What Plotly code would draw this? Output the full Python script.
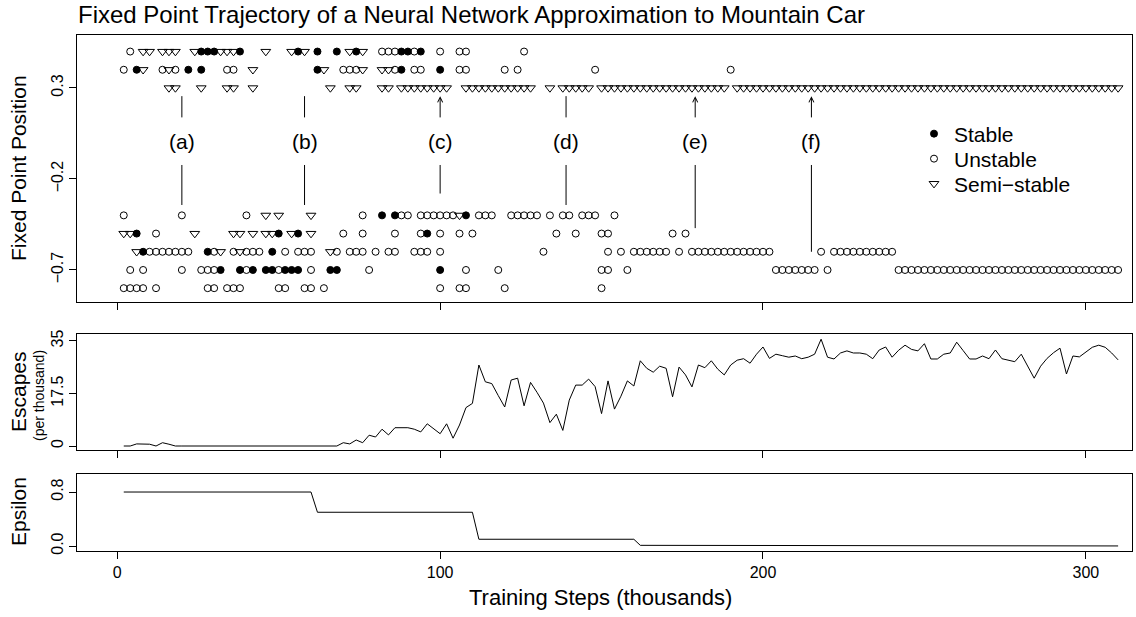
import plotly.graph_objects as go

# ---------------- data ----------------
# Training steps (thousands) at which fixed points / escapes were recorded
steps = list(range(2, 311, 2))

# Fixed point x-positions (thousands of steps) for each position level
stable_p050 = [26, 28, 30, 38, 56, 62, 68, 74, 88, 90, 94]
unstable_p050 = [4, 82, 84, 86, 92, 100, 106, 108, 126]
semi_p050 = [8, 10, 14, 16, 18, 24, 32, 34, 36, 46, 54, 58, 72, 76]

stable_p040 = [6, 22, 26, 62, 88, 100]
unstable_p040 = [2, 14, 18, 34, 36, 70, 72, 74, 86, 92, 94, 106, 108, 120, 124, 148, 190]
semi_p040 = [8, 16, 42, 64, 76, 82, 84]

semi_p030 = [16, 18, 26, 34, 36, 42, 66, 72, 74, 82, 84, 88,
             90, 92, 94, 96, 98, 100, 102, 108,
             110, 112, 114, 116, 118, 120, 122, 124, 126, 128, 134,
             138, 140, 142, 144, 146,
             150, 152, 154, 156, 158, 160, 162, 164, 166, 168, 170, 172, 174, 176, 178,
             180, 182, 184, 186, 188,
             192, 194, 196, 198, 200, 202, 204, 206, 208, 210, 212, 214, 216, 218, 220,
             222, 224, 226, 228, 230, 232, 234, 236, 238, 240, 242, 244, 246, 248, 250,
             252, 254, 256, 258, 260, 262, 264, 266, 268, 270, 272, 274, 276, 278, 280,
             282, 284, 286, 288, 290, 292, 294, 296, 298, 300, 302, 304, 306, 308, 310]

stable_m040 = [82, 86, 108]
unstable_m040 = [2, 20, 40, 76, 88, 90, 94, 96, 98, 100, 102, 104, 112, 114, 116,
                 122, 124, 126, 128, 130, 134, 138, 140, 144, 146, 148, 154]
semi_m040 = [46, 50, 60, 106]

stable_m050 = [6, 50, 56, 96]
unstable_m050 = [12, 70, 76, 86, 94, 100, 106, 110, 136, 142, 150, 152, 172, 176]
semi_m050 = [2, 4, 24, 36, 38, 42, 46, 48, 54, 60]

stable_m060 = [8, 28, 48]
unstable_m060 = [10, 12, 14, 16, 18, 20, 22, 30, 36, 40, 42, 44, 52, 56, 58, 60, 68,
                 72, 74, 76, 80, 84, 86, 92, 94, 96, 100, 132, 152, 156,
                 160, 162, 164, 166, 168, 170, 174,
                 178, 180, 182, 184, 186, 188, 190, 192, 194, 196, 198, 200, 202,
                 218, 222, 224, 226, 228, 230, 232, 234, 236, 238, 240]
semi_m060 = [6, 32, 38, 66]

stable_m070 = [32, 38, 42, 46, 48, 52, 54, 56, 66, 68, 100]
unstable_m070 = [4, 8, 20, 26, 28, 30, 40, 50, 60, 78, 108, 118, 150, 152, 158,
                 204, 206, 208, 210, 212, 214, 216, 220,
                 242, 244, 246, 248, 250, 252, 254, 256, 258, 260, 262, 264, 266,
                 268, 270, 272, 274, 276, 278, 280, 282, 284, 286, 288, 290, 292,
                 294, 296, 298, 300, 302, 304, 306, 308, 310]

unstable_m080 = [2, 4, 6, 8, 12, 28, 30, 34, 36, 38, 50, 52, 58, 60, 64,
                 100, 106, 108, 120, 150]

# Escapes (per thousand), one value per entry of `steps`
escapes = [0, 0, 0.7, 0.7, 0.6, 0, 1.1, 0.6, 0, 0,
           0, 0, 0, 0, 0, 0, 0, 0, 0, 0,
           0, 0, 0, 0, 0, 0, 0, 0, 0, 0,
           0, 0, 0, 0, 1.1, 0.7, 2.0, 1.1, 3.6, 3.0,
           5.6, 3.7, 6.1, 6.1, 6.1, 5.6, 4.7, 7.4, 5.9, 4.1,
           7.4, 2.6, 7.0, 12.8, 14.2, 27.0, 21.4, 20.8, 16.8, 13.0,
           22.0, 22.6, 13.4, 21.2, 17.9, 14.3, 7.8, 10.6, 5.2, 15.3,
           20.3, 20.3, 22.3, 19.8, 10.8, 21.7, 12.3, 16.6, 21.7, 20.0,
           28.4, 25.9, 24.6, 26.6, 25.9, 16.4, 26.3, 23.7, 19.7, 27.0,
           26.1, 28.4, 25.6, 23.7, 27.0, 28.6, 29.1, 27.6, 30.6, 33.0,
           29.2, 30.6, 30.1, 29.6, 30.0, 29.1, 29.6, 30.6, 35.6, 29.6,
           29.0, 31.0, 31.7, 31.0, 31.0, 30.6, 29.1, 32.0, 33.0, 29.6,
           31.9, 33.6, 32.2, 31.7, 34.1, 29.0, 29.0, 30.6, 31.0, 34.6,
           31.8, 29.0, 29.0, 30.0, 29.1, 32.0, 29.1, 28.7, 28.1, 30.6,
           26.4, 22.6, 26.6, 29.2, 31.1, 32.6, 24.0, 30.0, 29.7, 31.3,
           32.9, 33.6, 32.9, 31.0, 28.7]

# Epsilon schedule (breakpoints)
eps_steps = [2, 60, 62, 110, 112, 160, 162, 210, 212, 310]
eps_values = [0.8, 0.8, 0.5, 0.5, 0.1, 0.1, 0.01, 0.01, 0.001, 0.001]

# Annotated arrows (a)-(f)
arrow_labels = ["(a)", "(b)", "(c)", "(d)", "(e)", "(f)"]
arrow_x = [20, 58, 100, 139, 179, 215]
arrow_top_tip = [0.255, 0.255, 0.255, 0.255, 0.255, 0.255]
arrow_bottom_tip = [-0.343, -0.343, -0.28, -0.343, -0.47, -0.60]
arrow_top_head = [False, False, True, False, True, True]

# ---------------- build ----------------
def collect(pairs):
    xs, ys = [], []
    for level, xlist in pairs:
        xs += xlist
        ys += [level] * len(xlist)
    return xs, ys

st_x, st_y = collect([(0.5, stable_p050), (0.4, stable_p040), (-0.4, stable_m040),
                      (-0.5, stable_m050), (-0.6, stable_m060), (-0.7, stable_m070)])
un_x, un_y = collect([(0.5, unstable_p050), (0.4, unstable_p040), (-0.4, unstable_m040),
                      (-0.5, unstable_m050), (-0.6, unstable_m060), (-0.7, unstable_m070),
                      (-0.8, unstable_m080)])
se_x, se_y = collect([(0.5, semi_p050), (0.4, semi_p040), (0.3, semi_p030),
                      (-0.4, semi_m040), (-0.5, semi_m050), (-0.6, semi_m060)])

FONT = "Liberation Sans, Arial, Helvetica, sans-serif"
W, H = 1136, 617
ML, MR, MT, MB = 77, 4, 35, 66
PW = W - ML - MR
PH = H - MT - MB


def py(pxy):
    return (H - MB - pxy) / PH


def px(pxx):
    return (pxx - ML) / PW


fig = go.Figure()
fig.add_trace(go.Scatter(x=st_x, y=st_y, mode="markers", name="Stable", legend="legend",
                         marker=dict(symbol="circle", size=7, color="black",
                                     line=dict(width=1, color="black")),
                         xaxis="x", yaxis="y"))
fig.add_trace(go.Scatter(x=un_x, y=un_y, mode="markers", name="Unstable", legend="legend2",
                         marker=dict(symbol="circle-open", size=7, color="black",
                                     line=dict(width=1, color="black")),
                         xaxis="x", yaxis="y"))
fig.add_trace(go.Scatter(x=se_x, y=se_y, mode="markers", name="Semi\u2212stable",
                         legend="legend3",
                         marker=dict(symbol="triangle-down-open", size=8.5, color="black",
                                     line=dict(width=1, color="black")),
                         xaxis="x", yaxis="y"))
fig.add_trace(go.Scatter(x=steps, y=escapes, mode="lines", showlegend=False,
                         line=dict(color="black", width=1), xaxis="x2", yaxis="y2"))
fig.add_trace(go.Scatter(x=eps_steps, y=eps_values, mode="lines", showlegend=False,
                         line=dict(color="black", width=1), xaxis="x3", yaxis="y3"))

xr = [-12.48, 314.3]
axis_common = dict(showline=True, linecolor="black", linewidth=1, mirror=True,
                   ticks="outside", ticklen=7, tickwidth=1, tickcolor="black",
                   showgrid=False, zeroline=False,
                   tickfont=dict(family=FONT, size=16, color="black"))

LEG_FONT = dict(family=FONT, size=21, color="black")


def leg(center_px):
    return dict(x=px(914), y=py(center_px), xanchor="left", yanchor="middle",
                font=LEG_FONT, bgcolor="rgba(0,0,0,0)", borderwidth=0)


fig.update_layout(
    width=W, height=H,
    margin=dict(l=ML, r=MR, t=MT, b=MB),
    paper_bgcolor="white", plot_bgcolor="white",
    font=dict(family=FONT, color="black"),
    title=dict(text="Fixed Point Trajectory of a Neural Network Approximation to Mountain Car",
               x=78 / W, xref="container", xanchor="left",
               y=1 - 15 / H, yref="container", yanchor="middle",
               font=dict(family=FONT, size=24, color="black")),
    showlegend=True,
    legend=leg(134), legend2=leg(159), legend3=leg(184),
    xaxis=dict(domain=[0, 1], anchor="y", range=xr, tickvals=[0, 100, 200, 300],
               showticklabels=False, **axis_common),
    yaxis=dict(domain=[py(302), py(35)], anchor="x", range=[-0.876, 0.591],
               tickvals=[0.3, -0.2, -0.7], ticktext=["0.3", "\u22120.2", "\u22120.7"],
               tickangle=-90, **axis_common),
    xaxis2=dict(domain=[0, 1], anchor="y2", range=xr, tickvals=[0, 100, 200, 300],
                showticklabels=False, **axis_common),
    yaxis2=dict(domain=[py(450), py(334)], anchor="x2", range=[-1.33, 37.33],
                tickvals=[0, 17.5, 35], ticktext=["0", "17.5", "35"],
                tickangle=-90, **axis_common),
    xaxis3=dict(domain=[0, 1], anchor="y3", range=xr, tickvals=[0, 100, 200, 300],
                showticklabels=True, **axis_common),
    yaxis3=dict(domain=[py(551), py(474)], anchor="x3", range=[-0.074, 1.067],
                tickvals=[0, 0.8], ticktext=["0.0", "0.8"],
                tickangle=-90, **axis_common),
)

annotations = []
label_font = dict(family=FONT, size=21, color="black")
annotations.append(dict(text="Fixed Point Position", xref="paper", yref="paper",
                        x=px(18), y=py(168), textangle=-90, showarrow=False,
                        xanchor="center", yanchor="middle", font=label_font))
annotations.append(dict(text="Escapes", xref="paper", yref="paper",
                        x=px(18), y=py(392), textangle=-90, showarrow=False,
                        xanchor="center", yanchor="middle", font=label_font))
annotations.append(dict(text="(per thousand)", xref="paper", yref="paper",
                        x=px(39), y=py(396), textangle=-90, showarrow=False,
                        xanchor="center", yanchor="middle",
                        font=dict(family=FONT, size=14, color="black")))
annotations.append(dict(text="Epsilon", xref="paper", yref="paper",
                        x=px(18), y=py(512), textangle=-90, showarrow=False,
                        xanchor="center", yanchor="middle", font=label_font))
annotations.append(dict(text="Training Steps (thousands)", xref="paper", yref="paper",
                        x=px(600), y=py(597), showarrow=False,
                        xanchor="center", yanchor="middle",
                        font=dict(family=FONT, size=22, color="black")))

for lab, xv, tt, bt, head in zip(arrow_labels, arrow_x, arrow_top_tip,
                                 arrow_bottom_tip, arrow_top_head):
    annotations.append(dict(text=lab, x=xv, y=0.005, xref="x", yref="y",
                            showarrow=False, xanchor="center", yanchor="middle",
                            font=dict(family=FONT, size=21, color="black")))
    annotations.append(dict(text="", x=xv, y=tt, ax=xv, ay=0.13, xref="x", yref="y",
                            axref="x", ayref="y", showarrow=True,
                            arrowhead=5 if head else 0, arrowsize=1, arrowwidth=1,
                            arrowcolor="black", standoff=0, startstandoff=0))
    annotations.append(dict(text="", x=xv, y=bt, ax=xv, ay=-0.115, xref="x", yref="y",
                            axref="x", ayref="y", showarrow=True,
                            arrowhead=0, arrowsize=1, arrowwidth=1,
                            arrowcolor="black", standoff=0, startstandoff=0))

fig.update_layout(annotations=annotations)
fig.write_html("out.html")
